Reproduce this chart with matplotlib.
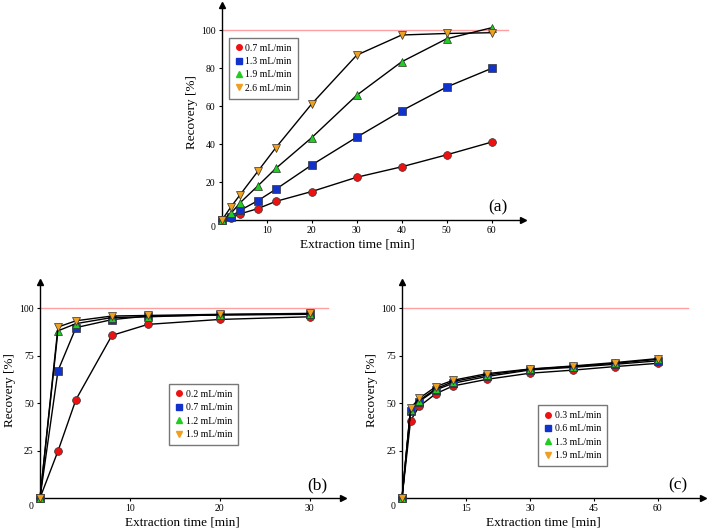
import matplotlib
matplotlib.use("Agg")
import matplotlib.pyplot as plt
from matplotlib.lines import Line2D

plt.rcParams['font.family'] = ['Liberation Serif', 'DejaVu Serif']

# panel (a)
time_a = [0, 2, 4, 8, 12, 20, 30, 40, 50, 60]
labels_a = ['0.7 mL/min', '1.3 mL/min', '1.9 mL/min', '2.6 mL/min']
rec_a_07 = [0, 1.0, 3.2, 6.0, 9.8, 15.0, 22.5, 28.0, 34.3, 41.0]
rec_a_13 = [0, 1.8, 5.0, 10.2, 16.2, 29.0, 43.6, 57.5, 70.0, 79.8]
rec_a_19 = [0, 3.5, 9.0, 18.0, 27.2, 43.4, 65.7, 83.3, 95.4, 101.2]
rec_a_26 = [0, 6.9, 13.2, 25.7, 38.1, 61.2, 86.8, 97.4, 98.2, 98.6]
xticks_a = [10, 20, 30, 40, 50, 60]
yticks_a = [20, 40, 60, 80, 100]

# panel (b)
time_b = [0, 2, 4, 8, 12, 20, 30]
labels_b = ['0.2 mL/min', '0.7 mL/min', '1.2 mL/min', '1.9 mL/min']
rec_b_02 = [0, 24.7, 51.8, 85.6, 91.4, 94.0, 95.4]
rec_b_07 = [0, 67.0, 89.7, 93.9, 95.8, 96.3, 96.7]
rec_b_12 = [0, 88.0, 91.8, 95.0, 95.4, 96.5, 97.0]
rec_b_19 = [0, 90.0, 93.3, 95.8, 96.1, 96.7, 97.2]
xticks_b = [10, 20, 30]
yticks_b = [25, 50, 75, 100]

# panel (c)
time_c = [0, 2, 4, 8, 12, 20, 30, 40, 50, 60]
labels_c = ['0.3 mL/min', '0.6 mL/min', '1.3 mL/min', '1.9 mL/min']
rec_c_03 = [0, 40.6, 48.2, 55.0, 59.0, 62.5, 65.7, 67.3, 69.2, 70.9]
rec_c_06 = [0, 46.0, 50.8, 57.0, 60.4, 64.0, 67.4, 68.8, 70.4, 72.2]
rec_c_13 = [0, 46.4, 51.3, 57.6, 61.3, 64.8, 67.8, 69.2, 70.9, 73.0]
rec_c_19 = [0, 47.3, 52.4, 58.7, 62.0, 65.5, 67.9, 69.5, 71.3, 73.4]
xticks_c = [15, 30, 45, 60]
yticks_c = [25, 50, 75, 100]

markers = ['o', 's', '^', 'v']
msizes = [5.6, 5.1, 5.2, 5.2]
colors = ['#ee1111', '#1133cc', '#22cc22', '#f0a020']


def draw_panel(ax, t, series, labels, xmax, ymax, xticks, yticks, tag, leg_pos, xlab_pos):
    """Draws one recovery panel with arrow axes"""
    ax.axhline(100, xmin=0, xmax=0.95, color='#ff9f9f', lw=1, zorder=1)
    for y, m, ms, c in zip(series, markers, msizes, colors):
        ax.plot(t, y, '-', color='k', lw=1.0, marker=m, ms=ms, mfc=c,
                mec='#333333', mew=0.5, clip_on=False, zorder=3)
    ax.set_xlim(0, xmax)
    ax.set_ylim(0, ymax)
    ax.set_xticks(xticks)
    ax.set_yticks(yticks)
    ax.tick_params(labelsize=7, length=2.5, width=0.8, pad=2)
    for s in ['top', 'right']:
        ax.spines[s].set_visible(False)
    for s in ['left', 'bottom']:
        ax.spines[s].set_linewidth(1)
    ax.plot(1, 0, '>k', ms=4, transform=ax.get_yaxis_transform(), clip_on=False)
    ax.plot(0, 1, '^k', ms=4, transform=ax.get_xaxis_transform(), clip_on=False)
    ax.annotate('0', xy=(0, 0), xytext=(-9, -8), textcoords='offset pixels',
                ha='center', va='center', fontsize=7)
    ax.set_xlabel('Extraction time [min]', fontsize=9.5)
    ax.set_ylabel('Recovery [%]', fontsize=9.5)
    ax.xaxis.set_label_coords(xlab_pos, -0.085)
    ax.yaxis.set_label_coords(-0.08, 0.5)
    ax.text(0.915, 0.06, tag, transform=ax.transAxes, fontsize=12.5,
            ha='center', va='center')
    handles = [Line2D([], [], ls='none', marker=m, ms=4, mfc=c, mec=c)
               for m, c in zip(markers, colors)]
    leg = ax.legend(handles, labels, loc='upper left', bbox_to_anchor=leg_pos,
                    fontsize=7, frameon=True, fancybox=False, handlelength=0.8,
                    handletextpad=0.3, labelspacing=0.45, borderpad=0.6,
                    borderaxespad=0)
    leg.get_frame().set_edgecolor('#555555')
    leg.get_frame().set_linewidth(1)


fig = plt.figure(figsize=(7.09, 5.31), dpi=100)
ax_a = fig.add_axes([0.3131, 0.5857, 0.4245, 0.4049])
ax_b = fig.add_axes([0.0564, 0.0621, 0.4274, 0.4068])
ax_c = fig.add_axes([0.5670, 0.0621, 0.4245, 0.4068])

draw_panel(ax_a, time_a, [rec_a_07, rec_a_13, rec_a_19, rec_a_26], labels_a,
           67, 113.2, xticks_a, yticks_a, '(a)', (0.023, 0.847), 0.45)
draw_panel(ax_b, time_b, [rec_b_02, rec_b_07, rec_b_12, rec_b_19], labels_b,
           33.7, 113.7, xticks_b, yticks_b, '(b)', (0.426, 0.528), 0.47)
draw_panel(ax_c, time_c, [rec_c_03, rec_c_06, rec_c_13, rec_c_19], labels_c,
           70.6, 113.7, xticks_c, yticks_c, '(c)', (0.452, 0.43), 0.47)

fig.savefig('out.png', dpi=100)
